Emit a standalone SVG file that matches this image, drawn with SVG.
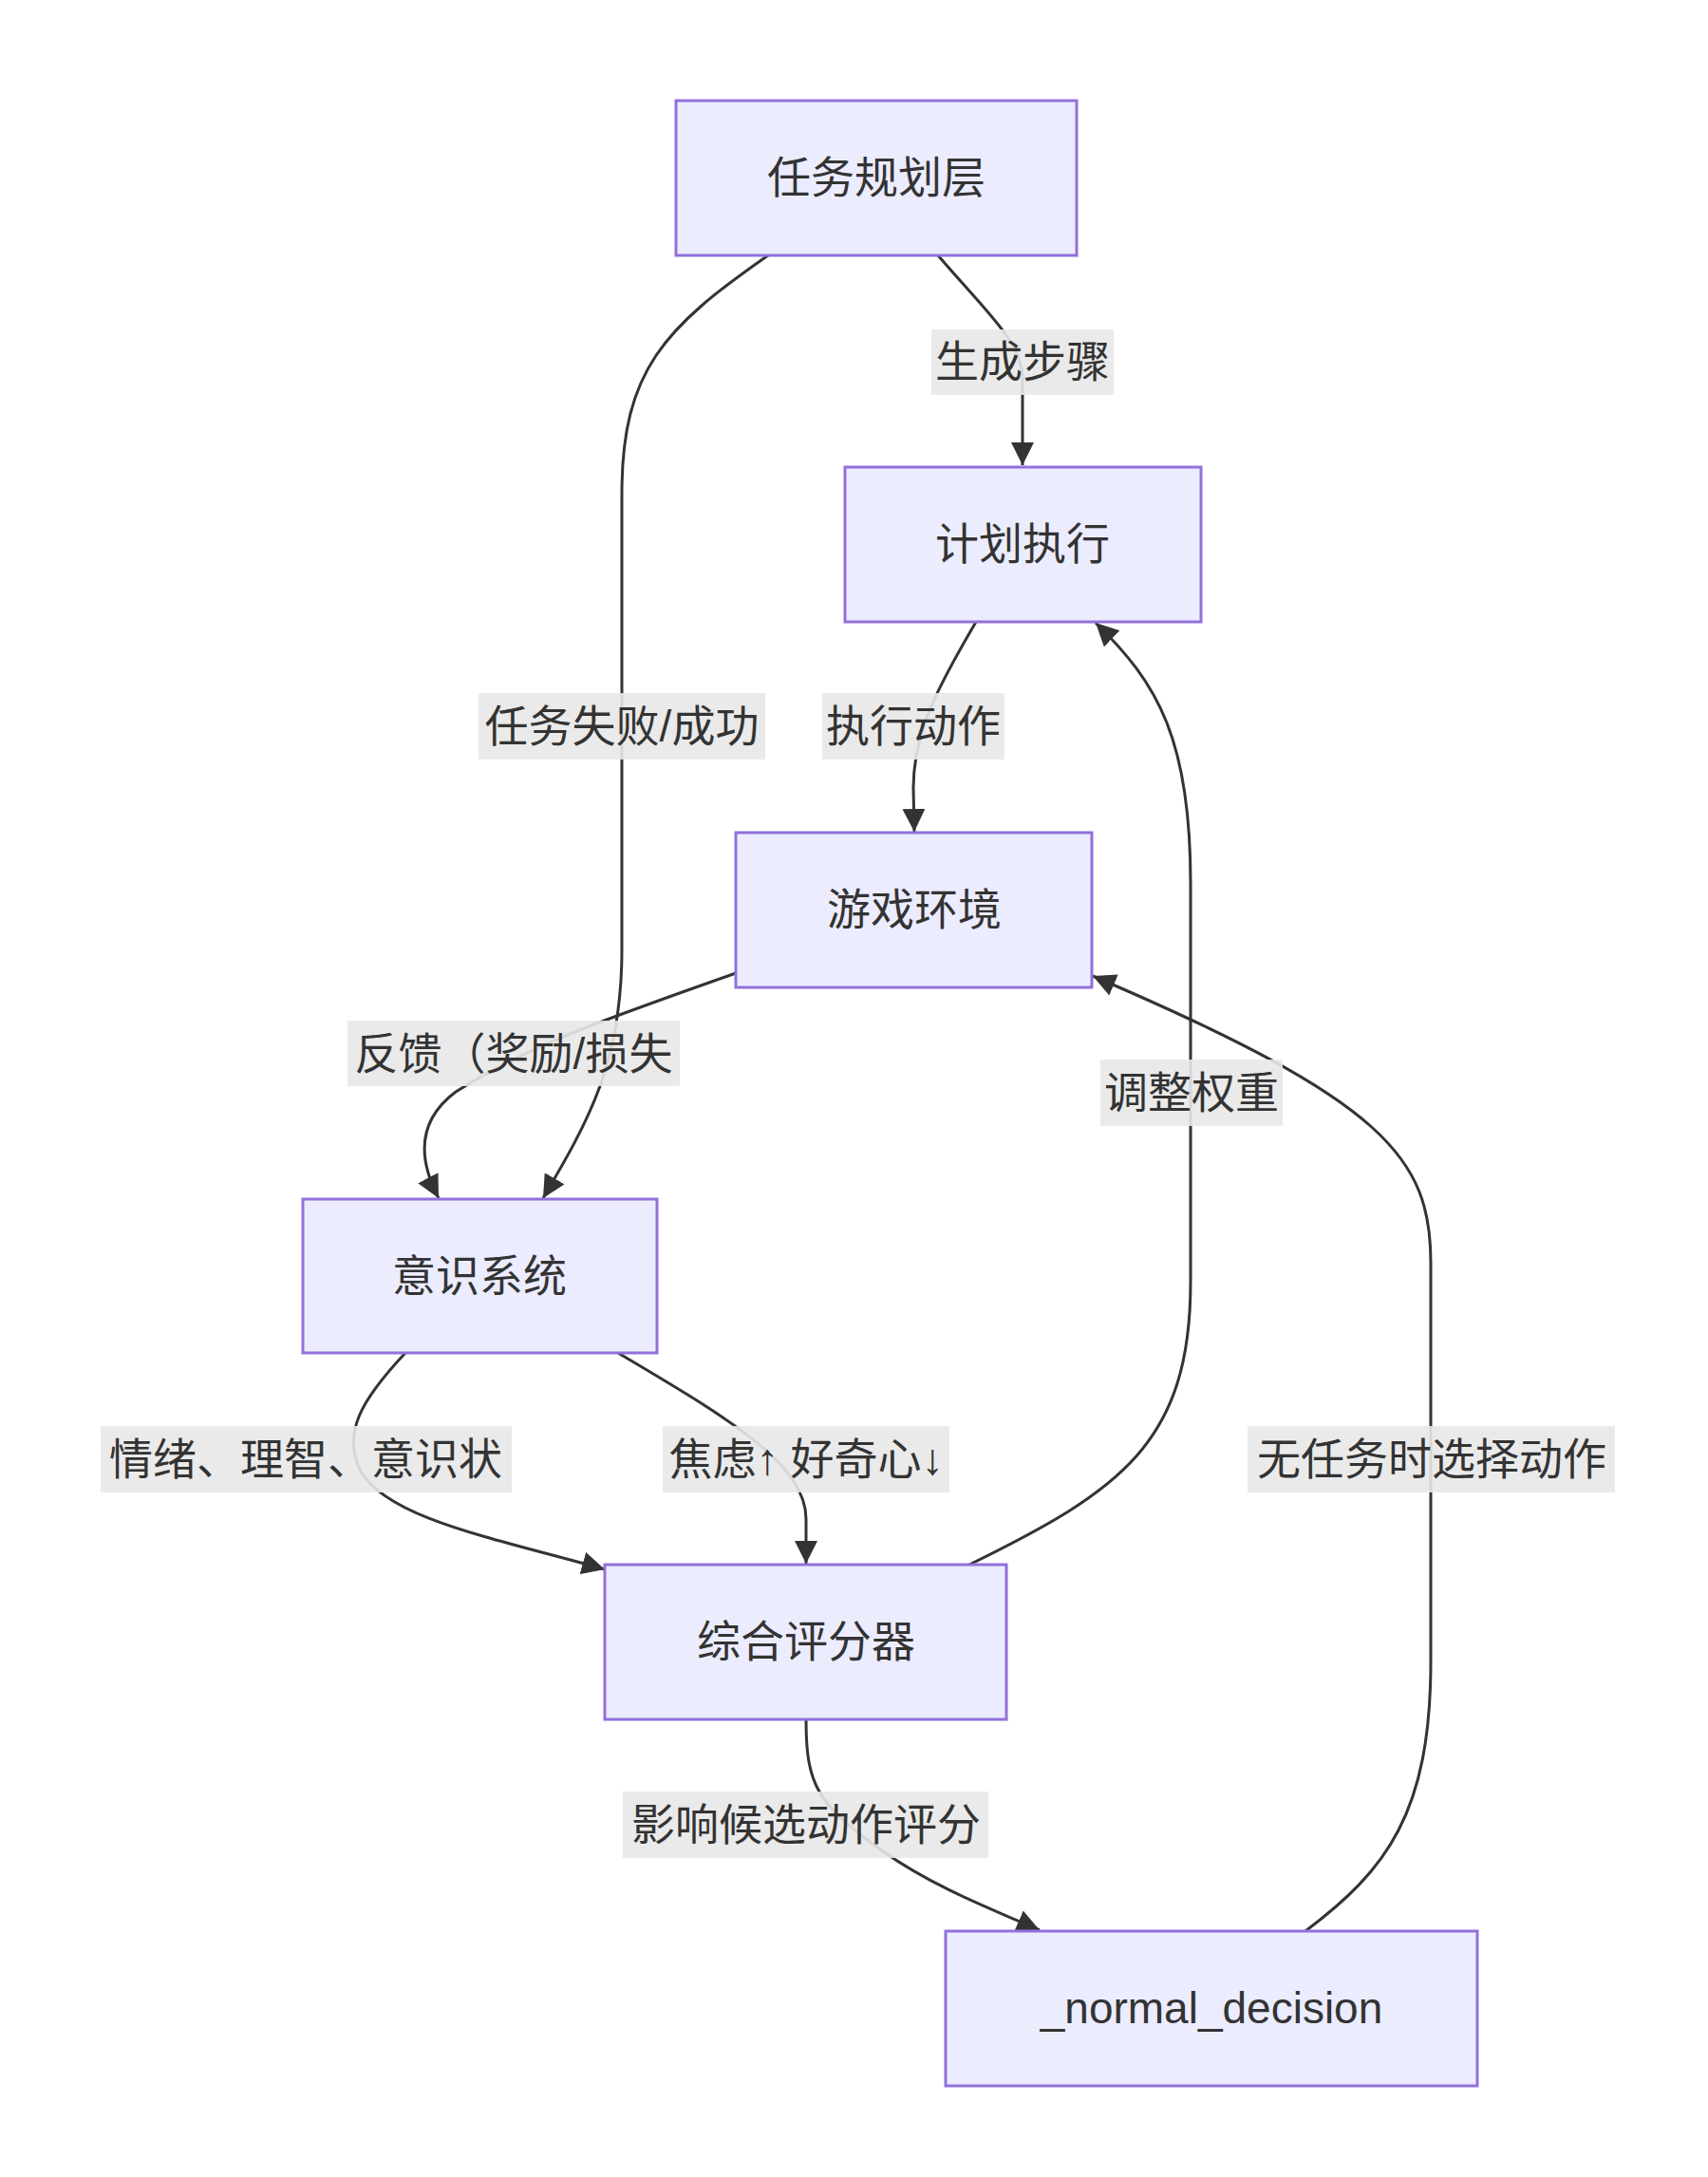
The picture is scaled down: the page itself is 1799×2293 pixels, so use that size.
<svg xmlns="http://www.w3.org/2000/svg" width="1799" height="2293" viewBox="0 0 1799 2293">
<style>
.n rect{fill:#ECECFF;stroke:#9370DB;stroke-width:3}
text{font-family:"Liberation Sans","Noto Sans CJK SC",sans-serif;font-size:46px;fill:#333;text-anchor:middle;dominant-baseline:central}
.e path{fill:none;stroke:#333;stroke-width:3}
.l rect{fill:#e8e8e8;opacity:0.9}
</style>
<defs>
<marker id="a" viewBox="0 0 10 10" refX="9" refY="5" markerWidth="8" markerHeight="8" markerUnits="userSpaceOnUse" orient="auto" style="overflow:visible">
<path d="M0,0 L10,5 L0,10 z" fill="#333" transform="scale(2.6) translate(-6,-3.1) scale(1)"/>
</marker>
<marker id="m" viewBox="0 0 12 12" refX="12" refY="6" markerWidth="24" markerHeight="24" markerUnits="userSpaceOnUse" orient="auto">
<path d="M0,0 L12,6 L0,12 z" fill="#333"/>
</marker>
</defs>
<g id="connectors" class="e">
<path marker-end="url(#m)" d="M988,269 C1040,330 1077,360 1077,400 L1077,490"/>
<path marker-end="url(#m)" d="M809,269 C700,345 655,390 655,520 L655,1000 C655,1120 620,1180 572,1262"/>
<path marker-end="url(#m)" d="M1028,655 C990,720 962,770 962,830 L963,876"/>
<path marker-end="url(#m)" d="M775,1025 C620,1080 560,1100 480,1150 C440,1180 440,1220 462,1262"/>
<path marker-end="url(#m)" d="M1021,1648 C1180,1570 1254,1520 1254,1350 L1254,930 C1254,780 1220,720 1154,656"/>
<path marker-end="url(#m)" d="M427,1425 C380,1475 360,1510 380,1550 C410,1600 520,1620 637,1653"/>
<path marker-end="url(#m)" d="M651,1425 C760,1490 849,1540 849,1600 L849,1647"/>
<path marker-end="url(#m)" d="M849,1811 C849,1880 860,1900 930,1950 C980,1985 1030,2005 1095,2033"/>
<path marker-end="url(#m)" d="M1375,2034 C1460,1970 1507,1910 1507,1750 L1507,1330 C1507,1220 1460,1160 1151,1028"/>
</g>
<g id="n1" class="n"><rect x="712" y="106" width="422" height="163"/><text x="923" y="187">任务规划层</text></g>
<g id="n2" class="n"><rect x="890" y="492" width="375" height="163"/><text x="1077" y="573">计划执行</text></g>
<g id="n3" class="n"><rect x="775" y="877" width="375" height="163"/><text x="963" y="958">游戏环境</text></g>
<g id="n4" class="n"><rect x="319" y="1263" width="373" height="162"/><text x="505" y="1344">意识系统</text></g>
<g id="n5" class="n"><rect x="637" y="1648" width="423" height="163"/><text x="849" y="1729">综合评分器</text></g>
<g id="n6" class="n"><rect x="996" y="2034" width="560" height="163"/><text x="1276" y="2115">_normal_decision</text></g>
<g id="labels" class="l">
<rect x="981" y="347" width="192" height="69"/><text x="1077" y="381">生成步骤</text>
<rect x="504" y="730" width="302" height="70"/><text x="655" y="765">任务失败/成功</text>
<rect x="866" y="730" width="192" height="70"/><text x="962" y="765">执行动作</text>
<rect x="366" y="1075" width="350" height="69"/><text x="541" y="1110">反馈（奖励/损失</text>
<rect x="1159" y="1116" width="192" height="70"/><text x="1255" y="1151">调整权重</text>
<rect x="106" y="1502" width="433" height="70"/><text x="322" y="1537">情绪、理智、意识状</text>
<rect x="698" y="1502" width="302" height="70"/><text x="849" y="1537">焦虑↑ 好奇心↓</text>
<rect x="1314" y="1502" width="387" height="70"/><text x="1508" y="1537">无任务时选择动作</text>
<rect x="656" y="1887" width="385" height="70"/><text x="849" y="1922">影响候选动作评分</text>
</g>
</svg>
